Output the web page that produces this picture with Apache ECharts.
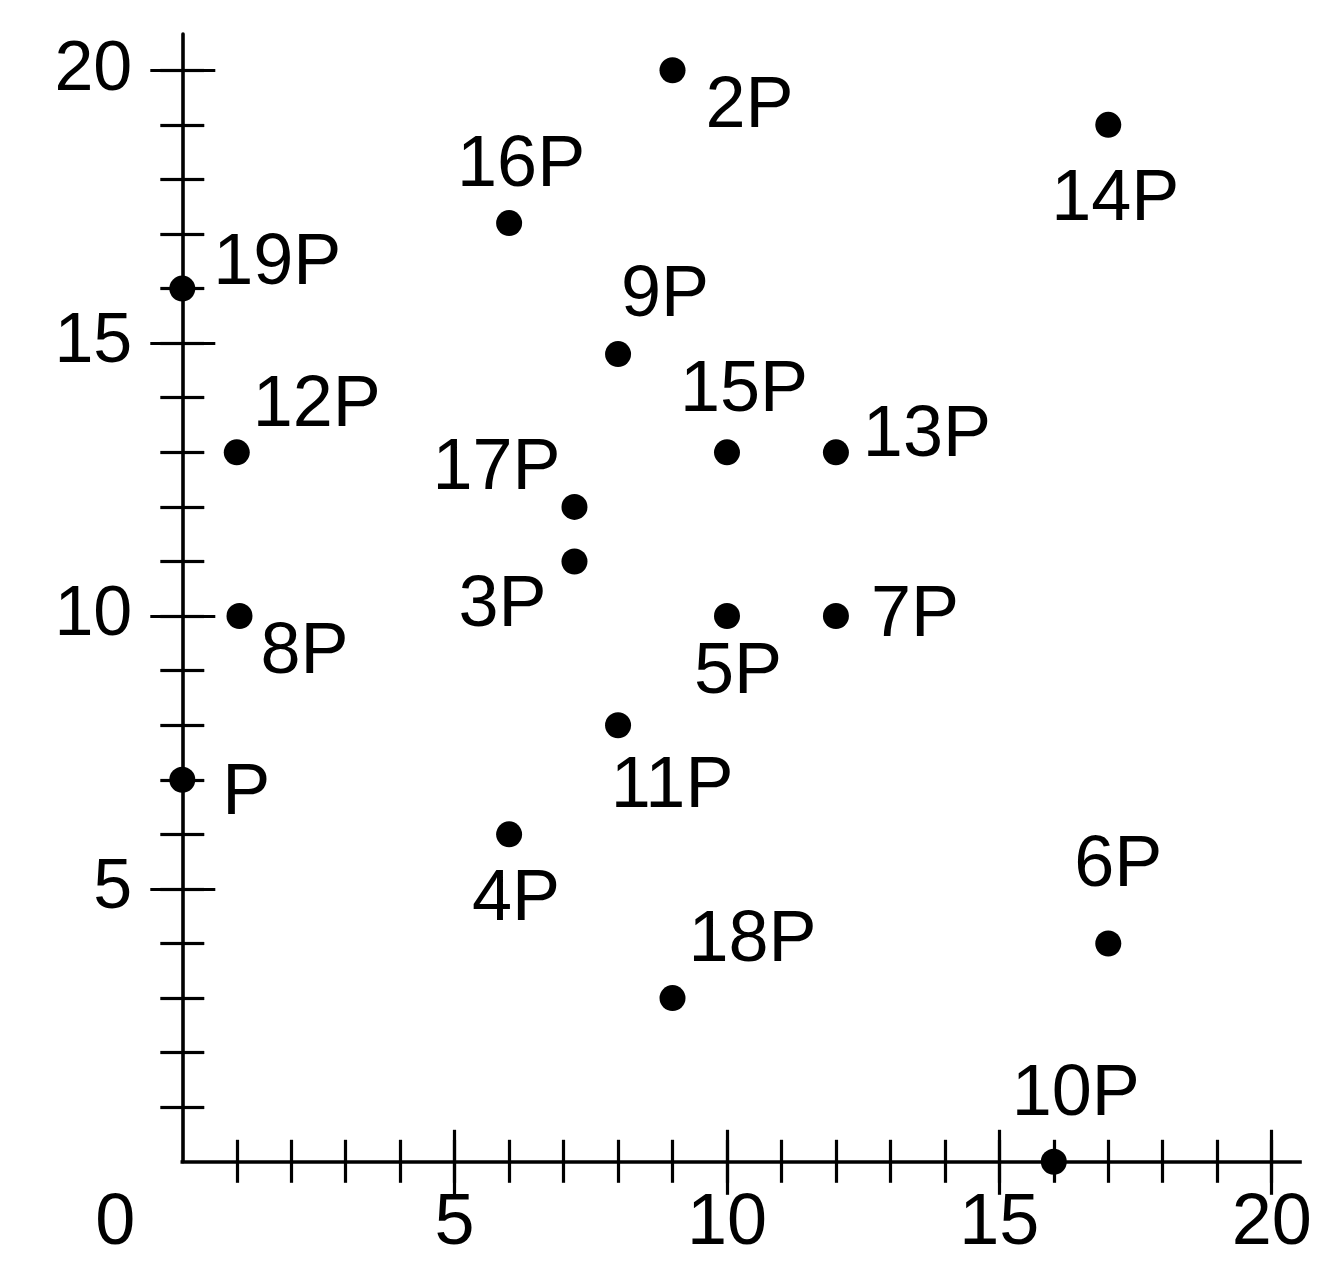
<!DOCTYPE html>
<html>
<head>
<meta charset="utf-8">
<script src="https://cdn.jsdelivr.net/npm/echarts@6/dist/echarts.min.js"></script>
<style>
  html, body { margin: 0; padding: 0; background: #ffffff; }
  #chart { width: 1321px; height: 1261px; }
</style>
</head>
<body>
<div id="chart"></div>
<script>
// Point names and their coordinates
const pointNames = ['P', '2P', '3P', '4P', '5P', '6P', '7P', '8P', '9P', '10P',
                    '11P', '12P', '13P', '14P', '15P', '16P', '17P', '18P', '19P'];
const xValues = [0, 9, 7.2, 6, 10, 17, 12, 1.05, 8, 16,
                 8, 1, 12, 17, 10, 6, 7.2, 9, 0];
const yValues = [7, 20, 11, 6, 10, 4, 10, 10, 14.8, 0,
                 8, 13, 13, 19, 13, 17.2, 12, 3, 16];

// Tick positions and tick labels
const minorTicks = [1, 2, 3, 4, 5, 6, 7, 8, 9, 10, 11, 12, 13, 14, 15, 16, 17, 18, 19, 20];
const majorTicks = [5, 10, 15, 20];
const xTickLabels = [0, 5, 10, 15, 20];
const yTickLabels = [5, 10, 15, 20];

// Where each name sits relative to its dot (text centre, px)
const labelOffsets = {
  'P': [64, 14], '2P': [77, 37], '3P': [-72, 45], '4P': [7, 66], '5P': [11, 57],
  '6P': [10, -77], '7P': [79, 0], '8P': [65, 37], '9P': [47, -58], '10P': [22, -67],
  '11P': [54, 62], '12P': [80, -46], '13P': [91, -16], '14P': [7, 75], '15P': [17, -61],
  '16P': [12, -57], '17P': [-78, -38], '18P': [80, -57], '19P': [95, -24]
};

const FONT = '"Liberation Sans", Arial, Helvetica, sans-serif';
const INK = '#000000';
const X_MAX = 20.52;
const Y_MAX = 20.665;

// One value axis carrying a single set of ticks on one side of the line
function tickAxis(position, max, ticks, length, inside) {
  return {
    type: 'value',
    position: position,
    min: 0,
    max: max,
    axisLine: { show: false, onZero: false },
    splitLine: { show: false },
    axisLabel: { show: false },
    axisTick: {
      show: true,
      customValues: ticks,
      length: length,
      inside: inside,
      lineStyle: { color: INK, width: 3.2 }
    }
  };
}

// x axes: the main one draws the line and labels, the others add ticks crossing the line
const xMain = tickAxis('bottom', X_MAX, minorTicks, 21, false);
xMain.axisLine = { show: true, onZero: false, lineStyle: { color: INK, width: 3.6, cap: 'square' } };
xMain.axisLabel = {
  show: true,
  customValues: xTickLabels,
  margin: 26,
  color: INK,
  fontFamily: FONT,
  fontSize: 72,
  lineHeight: 72,
  formatter: function (v) { return v === 0 ? '{zero|0}' : String(v); },
  rich: {
    zero: { fontFamily: FONT, fontSize: 72, lineHeight: 72, color: INK, padding: [0, 134, 0, 0] }
  }
};

const yMain = tickAxis('left', Y_MAX, minorTicks, 22, false);
yMain.axisLine = { show: true, onZero: false, lineStyle: { color: INK, width: 3.6 } };
yMain.axisLabel = {
  show: true,
  customValues: yTickLabels,
  margin: 50,
  color: INK,
  fontFamily: FONT,
  fontSize: 70
};

const chart = echarts.init(document.getElementById('chart'), null, { renderer: 'canvas' });

chart.setOption({
  animation: false,
  backgroundColor: '#ffffff',
  grid: {
    left: 182.3,
    right: 21,
    top: 34,
    bottom: 99.2,
    containLabel: false,
    outerBoundsMode: 'none'
  },
  xAxis: [
    xMain,
    tickAxis('bottom', X_MAX, minorTicks, 22, true),
    tickAxis('bottom', X_MAX, majorTicks, 33, false),
    tickAxis('bottom', X_MAX, majorTicks, 32, true)
  ],
  yAxis: [
    yMain,
    tickAxis('left', Y_MAX, minorTicks, 22, true),
    tickAxis('left', Y_MAX, majorTicks, 32, false),
    tickAxis('left', Y_MAX, majorTicks, 33, true)
  ],
  series: [{
    type: 'scatter',
    xAxisIndex: 0,
    yAxisIndex: 0,
    symbol: 'circle',
    symbolSize: 26,
    itemStyle: { color: INK, opacity: 1 },
    z: 5,
    label: {
      show: true,
      position: 'inside',
      align: 'center',
      verticalAlign: 'middle',
      formatter: '{b}',
      color: INK,
      opacity: 1,
      fontFamily: FONT,
      fontSize: 72
    },
    data: pointNames.map(function (name, i) {
      return {
        name: name,
        value: [xValues[i], yValues[i]],
        label: { offset: labelOffsets[name] }
      };
    })
  }]
});
</script>
</body>
</html>
